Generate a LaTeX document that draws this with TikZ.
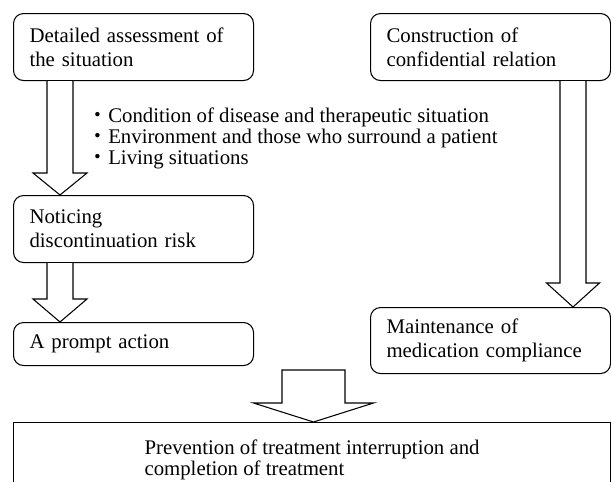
\documentclass[tikz,border=0pt]{standalone}
\usepackage{fontspec}
\setmainfont{Liberation Serif}
\newfontfamily\cjk{Noto Sans CJK JP}
\usetikzlibrary{calc}

\tikzset{
  stagebox/.style={draw, line width=0.8pt, rounded corners=7.5pt, anchor=north west,
    minimum width=180pt, text width=156pt, inner xsep=12pt, inner ysep=0pt, align=left,
    font=\fontsize{15.6pt}{18pt}\selectfont},
  goalbox/.style={draw, line width=0.8pt, anchor=north west, minimum width=447.75pt,
    minimum height=55.5pt, align=left, font=\fontsize{15.6pt}{15.75pt}\selectfont},
  factorlist/.style={inner sep=0pt, align=left, font=\fontsize{15.6pt}{15.75pt}\selectfont},
  hollow/.style={draw, line width=0.8pt, line join=miter, fill=white}
}

% hollow block arrow: [end] top, tip, half shaft, half head, head length
\newcommand{\hollowarrow}[6][]{%
  \draw[hollow] ($(#2)+(-#4,0)$) -- ($(#3)+(-#4,-#6)$) -- ($(#3)+(-#5,-#6)$) -- (#3)
    -- ($(#3)+(#5,-#6)$) -- ($(#3)+(#4,-#6)$) -- ($(#2)+(#4,0)$) #1;%
}

\begin{document}
\begin{tikzpicture}[x=0.75pt, y=-0.75pt]
  \useasboundingbox (0,0) rectangle (611,482);
  \clip (0,0) rectangle (611,482);

  % Drawing the stages
  \node[stagebox, minimum height=50.25pt] (assess) at (13,13) {Detailed assessment of\\the situation};
  \node[stagebox, minimum height=50.25pt] (trust) at (370,13) {Construction of\\confidential relation};
  \node[stagebox, minimum height=50.25pt] (notice) at (13,195) {Noticing\\discontinuation risk};
  \node[stagebox, minimum height=32.25pt] (prompt) at (13,322) {A prompt action};
  \node[stagebox, minimum height=49.5pt] (maintain) at (370,307) {Maintenance of\\medication compliance};
  \node[goalbox] (goal) at (13,422) {Prevention of treatment interruption and\\completion of treatment};

  % Marking the points of assessment
  \node[factorlist, anchor=base west] (factors) at (87.2,164)
    {{\cjk ・}Condition of disease and therapeutic situation\\
     {\cjk ・}Environment and those who surround a patient\\
     {\cjk ・}Living situations};

  % Drawing the hollow arrows
  \coordinate (a1top) at (60,0 |- assess.south);
  \coordinate (a1tip) at (60,0 |- notice.north);
  \coordinate (a2top) at (60,0 |- notice.south);
  \coordinate (a2tip) at (60,0 |- prompt.north);
  \coordinate (a3top) at (573,0 |- trust.south);
  \coordinate (a3tip) at (573,0 |- maintain.north);
  \coordinate (a4top) at (313.5,370);
  \coordinate (a4tip) at (313.5,0 |- goal.north);
  \hollowarrow{a1top}{a1tip}{13}{27}{22}
  \hollowarrow{a2top}{a2tip}{13}{27}{23}
  \hollowarrow{a3top}{a3tip}{13}{26.5}{24}
  \hollowarrow[-- cycle]{a4top}{a4tip}{31.5}{60}{19}
\end{tikzpicture}
\end{document}
